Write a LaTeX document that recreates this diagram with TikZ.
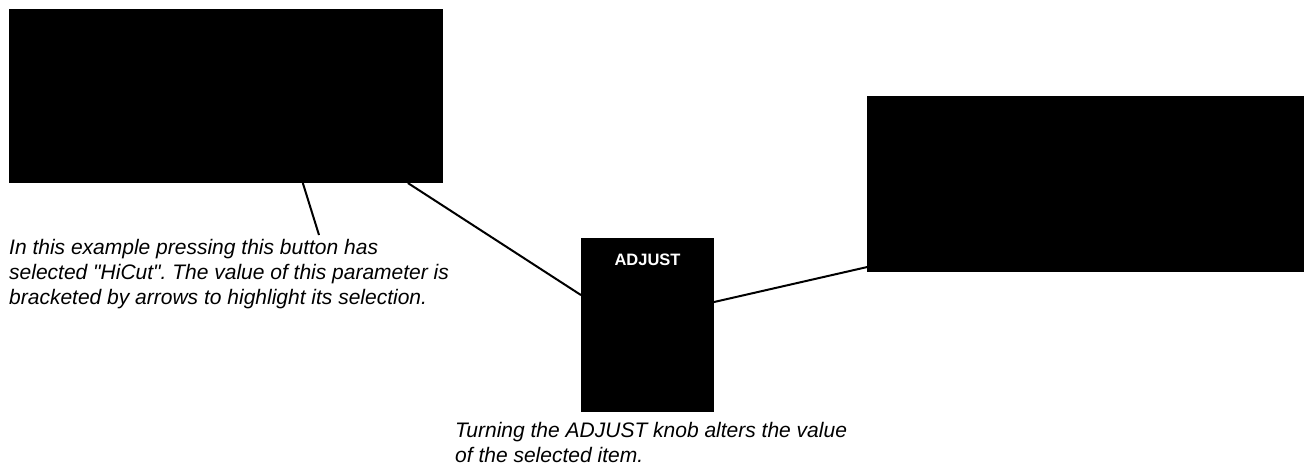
\documentclass[tikz,border=0pt]{standalone}
\usepackage{fontspec}
\setmainfont{Liberation Sans}
\newfontfamily\notefont{Liberation Sans}
\usetikzlibrary{calc}
\frenchspacing
\begin{document}
\begin{tikzpicture}[x=1pt,y=-1pt,
  panel/.style={fill=black, draw=none, inner sep=0pt, outer sep=0pt, anchor=north west},
  conn/.style={line width=2pt, black},
  note/.style={font=\notefont\fontsize{21}{25}\selectfont\itshape, align=left, inner sep=0pt, anchor=north west}]
\useasboundingbox (0,0) rectangle (1306,468);
\coordinate (tip) at (319,235);
\node[panel, minimum width=434pt, minimum height=174pt] (A) at (9,9) {};
\node[panel, minimum width=133pt, minimum height=174pt] (B) at (581,238) {};
\node[panel, minimum width=437pt, minimum height=176pt] (C) at (867,96) {};
\draw[conn] ($(A.south west)!0.677!(A.south east)$) -- (tip);
\draw[conn] ($(A.south west)!0.919!(A.south east)$) -- ($(B.north west)!0.328!(B.south west)$);
\draw[conn] ($(B.north east)!0.368!(B.south east)$) -- ($(C.north west)!0.972!(C.south west)$);
\node[font=\fontsize{16.5}{19}\selectfont\bfseries, text=white, anchor=base, inner sep=0pt] (adj) at (647.5,265) {ADJUST};
\node[note] (n1) at (9,239) {In this example pressing this button has\\selected "HiCut". The value of this parameter is\\bracketed by arrows to highlight its selection.};
\node[note] (n2) at (455,422) {Turning the ADJUST knob alters the value\\of the selected item.};
\end{tikzpicture}
\end{document}
